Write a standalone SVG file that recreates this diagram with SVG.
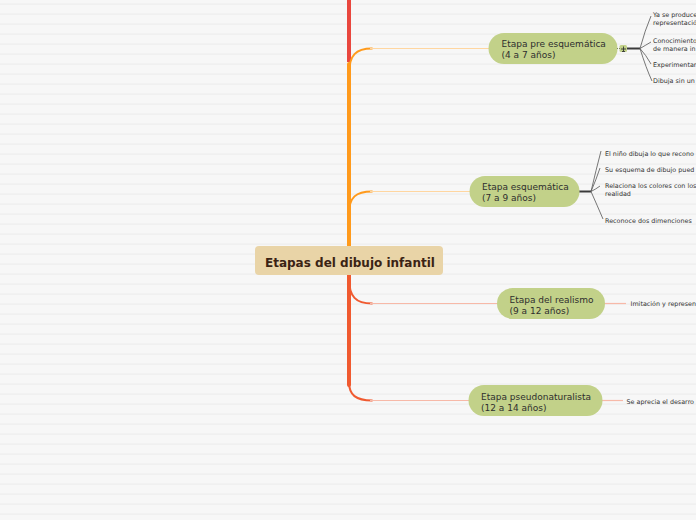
<svg xmlns="http://www.w3.org/2000/svg" width="696" height="520" viewBox="0 0 696 520">
<defs>
<pattern id="stripes" x="0" y="0" width="696" height="10" patternUnits="userSpaceOnUse">
<rect x="0" y="0" width="696" height="10" fill="#f7f7f7"/>
<rect x="0" y="3.5" width="696" height="1.2" fill="#ededed"/>
</pattern>
</defs>
<style>
.node{fill:#c2d189;}
.nt{font-family:"DejaVu Sans","Liberation Sans",sans-serif;font-size:9px;fill:#2e2e2e;}
.lt{font-family:"DejaVu Sans","Liberation Sans",sans-serif;font-size:6.4px;fill:#333;}
.leaf{stroke:#555;stroke-width:0.8;fill:none;}
.hub{stroke:#3a3a3a;stroke-width:2;fill:none;}
.or{stroke:#ff9a1c;fill:none;stroke-linecap:round;}
.orl{stroke:#ffd6a0;stroke-width:1.2;fill:none;}
.rd{stroke:#f05a30;fill:none;stroke-linecap:round;}
.rdl{stroke:#f7b9a8;stroke-width:1.2;fill:none;}
</style>
<rect width="696" height="520" fill="url(#stripes)"/>
<g id="connectors">
<line x1="349" y1="0" x2="349" y2="62" stroke="#e9473e" stroke-width="4"/>
<path class="or" d="M349,250 V64" stroke-width="4"/>
<path class="or" d="M349,74 C349,55 356,48.5 372,48.5" stroke-width="2"/>
<path class="orl" d="M370,48.5 H489"/>
<path class="or" d="M349,214 C349,197 356,191.5 372,191.5" stroke-width="2"/>
<path class="orl" d="M370,191.5 H470"/>
<path class="rd" d="M349,272 V385" stroke-width="4"/>
<path class="rd" d="M349,278 C349,297 356,303.5 372,303.5" stroke-width="2"/>
<path class="rdl" d="M370,303.5 H497"/>
<path class="rd" d="M349,382 C349,395 356,400.5 372,400.5" stroke-width="2"/>
<path class="rdl" d="M370,400.5 H469"/>
<line x1="617" y1="48.5" x2="620" y2="48.5" stroke="#3a3a3a" stroke-width="1" stroke-dasharray="1,1"/>
<path class="hub" d="M627,48.5 H640"/>
<path class="leaf" d="M640,48.5 Q645,30 651,16"/>
<path class="leaf" d="M640,48.5 Q646,45 651,42"/>
<path class="leaf" d="M640,48.5 Q646,55 651,64"/>
<path class="leaf" d="M640,48.5 Q646,68 652,81"/>
<path class="hub" d="M579,191.5 H591"/>
<path class="leaf" d="M591,191.5 Q596,170 601,151"/>
<path class="leaf" d="M591,191.5 Q596,180 600,168"/>
<path class="leaf" d="M591,191.5 Q596,189 600,186"/>
<path class="leaf" d="M591,191.5 Q597,205 603,219"/>
<path class="rdl" d="M605,303.5 H626"/>
<path class="rdl" d="M602,400.5 H623"/>
</g>
<g id="center">
<rect x="255" y="246" width="188" height="29" rx="4" fill="#e9d4a7"/>
<text x="265" y="266.5" font-family="DejaVu Sans, Liberation Sans, sans-serif" font-size="12" font-weight="bold" fill="#3b2314">Etapas del dibujo infantil</text>
</g>
<g id="n1">
<rect class="node" x="488.5" y="33" width="129" height="31" rx="15.5"/>
<text class="nt" x="501.5" y="47">Etapa pre esquemática</text>
<text class="nt" x="501.5" y="58">(4 a 7 años)</text>
<rect x="619.5" y="45" width="7.5" height="7" rx="1.5" fill="#c2d189"/>
<path d="M621,49 h5 M623.5,46.5 v5 M622,51.5 h3" stroke="#333" stroke-width="0.9" fill="none"/>
</g>
<g id="n1-leaves">
<text class="lt" x="653" y="17.3">Ya se produce</text>
<text class="lt" x="653" y="25">representación</text>
<text class="lt" x="653" y="43">Conocimiento</text>
<text class="lt" x="653" y="50.5">de manera in</text>
<text class="lt" x="653" y="66.5">Experimentan</text>
<text class="lt" x="653" y="83">Dibuja sin un</text>
</g>
<g id="n2">
<rect class="node" x="469.5" y="176" width="110" height="31" rx="15.5"/>
<text class="nt" x="482" y="190">Etapa esquemática</text>
<text class="nt" x="482" y="201">(7 a 9 años)</text>
</g>
<g id="n2-leaves">
<text class="lt" x="605" y="156.3">El niño dibuja lo que recono</text>
<text class="lt" x="605" y="171.5">Su esquema de dibujo pued</text>
<text class="lt" x="605" y="188.3">Relaciona los colores con los</text>
<text class="lt" x="605" y="196.3">realidad</text>
<text class="lt" x="605" y="223">Reconoce dos dimenciones</text>
</g>
<g id="n3">
<rect class="node" x="497" y="288" width="108" height="31" rx="15.5"/>
<text class="nt" x="509.5" y="302.5">Etapa del realismo</text>
<text class="nt" x="509.5" y="313.5">(9 a 12 años)</text>
</g>
<g id="n3-leaf">
<text class="lt" x="630.5" y="306.3">Imitación y represen</text>
</g>
<g id="n4">
<rect class="node" x="468.5" y="385" width="134" height="31" rx="15.5"/>
<text class="nt" x="481" y="400">Etapa pseudonaturalista</text>
<text class="nt" x="481" y="411">(12 a 14 años)</text>
</g>
<g id="n4-leaf">
<text class="lt" x="626.5" y="403.5">Se aprecia el desarro</text>
</g>
</svg>
